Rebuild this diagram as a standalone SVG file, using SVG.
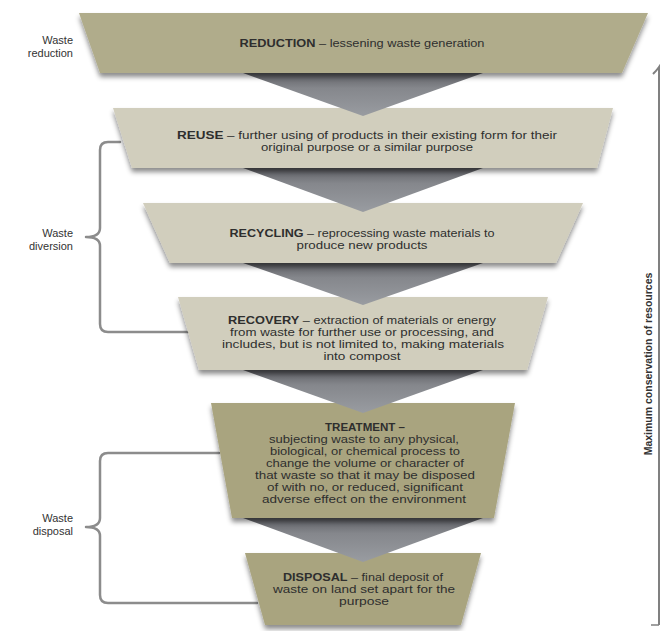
<svg xmlns="http://www.w3.org/2000/svg" width="662" height="631" viewBox="0 0 662 631">
<defs>
<filter id="sh" x="-10%" y="-10%" width="120%" height="140%">
<feDropShadow dx="0" dy="4" stdDeviation="2.5" flood-color="#000" flood-opacity="0.45"/>
</filter>
<linearGradient id="tg" x1="0" y1="0" x2="0" y2="1">
<stop offset="0" stop-color="#5d5e63"/>
<stop offset="0.35" stop-color="#85878c"/>
<stop offset="1" stop-color="#999ca1"/>
</linearGradient>
<style>
.t{font-family:"Liberation Sans",Arial,sans-serif;font-size:10.5px;fill:#2e2e2e;text-anchor:middle}
.b{font-weight:bold}
.lab{font-family:"Liberation Sans",Arial,sans-serif;font-size:11px;fill:#333;text-anchor:end}
.dk{fill:#b0ac8b;filter:url(#sh)}
.lt{fill:#d1cebd;filter:url(#sh)}
.dk2{fill:#a9a47f;filter:url(#sh)}
.tri{fill:url(#tg)}
.br{fill:none;stroke:#8c8c8c;stroke-width:2.5;stroke-linejoin:round;stroke-linecap:round}
</style>
</defs>
<rect width="662" height="631" fill="#fff"/>

<g id="connectors">
<path class="br" d="M120,142 H108 Q100,142 100,150 V228 Q100,237 86,237 Q100,237 100,246 V324 Q100,332 108,332 H188"/>
<path class="br" d="M219,453 H108 Q100,453 100,461 V518 Q100,527 86,527 Q100,527 100,536 V595 Q100,603 108,603 H257"/>
<path d="M659,625 V67 Q657,70 653,74" fill="none" stroke="#808080" stroke-width="2"/>
<path d="M659,625 H651" fill="none" stroke="#808080" stroke-width="1.5"/>
</g>

<g id="disposal">
<polygon class="dk2" points="245,553 481,553 461,625 265,625"/>
<text class="t" x="363" y="581" textLength="160" lengthAdjust="spacingAndGlyphs"><tspan class="b">DISPOSAL</tspan> – final deposit of</text>
<text class="t" x="364" y="593" textLength="182" lengthAdjust="spacingAndGlyphs">waste on land set apart for the</text>
<text class="t" x="364" y="605" textLength="50" lengthAdjust="spacingAndGlyphs">purpose</text>
</g>
<polygon class="tri" points="243,518 483,518 363,562"/>

<g id="treatment">
<polygon class="dk2" points="211,403 515,403 494,518 232,518"/>
<text class="t b" x="365" y="431" textLength="80" lengthAdjust="spacingAndGlyphs">TREATMENT –</text>
<text class="t" x="364" y="443" textLength="190" lengthAdjust="spacingAndGlyphs">subjecting waste to any physical,</text>
<text class="t" x="365" y="455" textLength="190" lengthAdjust="spacingAndGlyphs">biological, or chemical process to</text>
<text class="t" x="365" y="467" textLength="198" lengthAdjust="spacingAndGlyphs">change the volume or character of</text>
<text class="t" x="365" y="479" textLength="220" lengthAdjust="spacingAndGlyphs">that waste so that it may be disposed</text>
<text class="t" x="365" y="491" textLength="196" lengthAdjust="spacingAndGlyphs">of with no, or reduced, significant</text>
<text class="t" x="364" y="503" textLength="204" lengthAdjust="spacingAndGlyphs">adverse effect on the environment</text>
</g>
<polygon class="tri" points="243,370 483,370 363,413"/>

<g id="recovery">
<polygon class="lt" points="178,297 548,297 527,370 199,370"/>
<text class="t" x="362" y="324" textLength="268" lengthAdjust="spacingAndGlyphs"><tspan class="b">RECOVERY</tspan> – extraction of materials or energy</text>
<text class="t" x="362" y="336" textLength="264" lengthAdjust="spacingAndGlyphs">from waste for further use or processing, and</text>
<text class="t" x="363" y="348" textLength="282" lengthAdjust="spacingAndGlyphs">includes, but is not limited to, making materials</text>
<text class="t" x="362" y="360" textLength="77" lengthAdjust="spacingAndGlyphs">into compost</text>
</g>
<polygon class="tri" points="243,263 483,263 363,305"/>

<g id="recycling">
<polygon class="lt" points="143,203 583,203 556,263 170,263"/>
<text class="t" x="362" y="237" textLength="265" lengthAdjust="spacingAndGlyphs"><tspan class="b">RECYCLING</tspan> – reprocessing waste materials to</text>
<text class="t" x="362" y="249" textLength="131" lengthAdjust="spacingAndGlyphs">produce new products</text>
</g>
<polygon class="tri" points="243,168 483,168 363,212"/>

<g id="reuse">
<polygon class="lt" points="113,108 613,108 597,168 132,168"/>
<text class="t" x="367" y="139" textLength="380" lengthAdjust="spacingAndGlyphs"><tspan class="b">REUSE</tspan> – further using of products in their existing form for their</text>
<text class="t" x="367" y="151" textLength="212" lengthAdjust="spacingAndGlyphs">original purpose or a similar purpose</text>
</g>
<polygon class="tri" points="243,73 483,73 363,116"/>

<g id="reduction">
<polygon class="dk" points="79,13 648,13 622,73 100,73"/>
<text class="t" x="362" y="47" textLength="245" lengthAdjust="spacingAndGlyphs"><tspan class="b">REDUCTION</tspan> – lessening waste generation</text>
</g>

<g id="labels">
<text class="lab" x="73" y="44">Waste</text>
<text class="lab" x="73" y="57">reduction</text>
<text class="lab" x="73" y="237">Waste</text>
<text class="lab" x="73" y="250">diversion</text>
<text class="lab" x="73" y="522">Waste</text>
<text class="lab" x="73" y="535">disposal</text>
</g>

<g id="axis-label">
<text transform="translate(652,364) rotate(-90)" style="font-family:'Liberation Sans',Arial,sans-serif;font-size:10.5px;font-weight:bold;fill:#333;text-anchor:middle">Maximum conservation of resources</text>
</g>
</svg>
